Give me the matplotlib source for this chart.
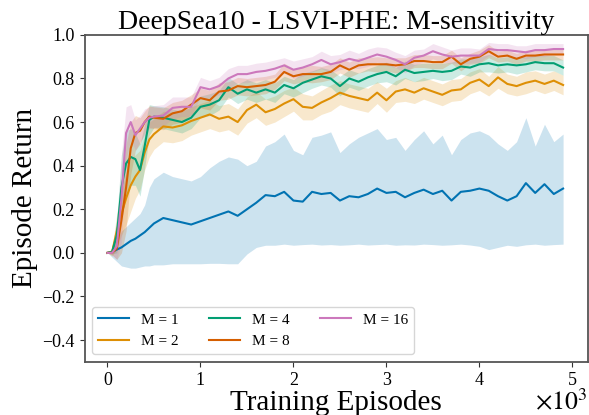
import numpy as np
import matplotlib
matplotlib.use("Agg")
import matplotlib.pyplot as plt

plt.rcParams['font.family'] = 'serif'
plt.rcParams['font.serif'] = ['Liberation Serif', 'DejaVu Serif']
plt.rcParams['mathtext.fontset'] = 'stix'

# training episodes
episodes = [0, 50, 100, 150, 200, 250, 300, 350, 400, 450, 500,
            600, 700, 800, 900, 1000, 1100, 1200, 1300, 1400, 1500,
            1600, 1700, 1800, 1900, 2000, 2100, 2200, 2300, 2400, 2500,
            2600, 2700, 2800, 2900, 3000, 3100, 3200, 3300, 3400, 3500,
            3600, 3700, 3800, 3900, 4000, 4100, 4200, 4300, 4400, 4500,
            4600, 4700, 4800, 4900]

# M = 1 (mean, upper and lower edge of band)
m1_mean = [0.0, 0.005, 0.015, 0.025, 0.04, 0.055, 0.065, 0.08, 0.095, 0.115, 0.135,
           0.16, 0.15, 0.14, 0.13, 0.145, 0.16, 0.175, 0.19, 0.17, 0.20,
           0.23, 0.265, 0.26, 0.28, 0.24, 0.235, 0.28, 0.27, 0.275, 0.24,
           0.26, 0.255, 0.27, 0.295, 0.275, 0.28, 0.255, 0.275, 0.29, 0.27,
           0.285, 0.24, 0.28, 0.285, 0.295, 0.285, 0.26, 0.24, 0.26, 0.32,
           0.275, 0.315, 0.27, 0.295]
m1_hi = [0.0, 0.02, 0.06, 0.10, 0.12, 0.14, 0.16, 0.18, 0.22, 0.30, 0.34,
         0.37, 0.35, 0.34, 0.33, 0.35, 0.39, 0.42, 0.44, 0.43, 0.40,
         0.42, 0.49, 0.51, 0.545, 0.47, 0.45, 0.53, 0.54, 0.555, 0.46,
         0.50, 0.53, 0.55, 0.57, 0.52, 0.53, 0.47, 0.52, 0.56, 0.50,
         0.54, 0.45, 0.52, 0.55, 0.56, 0.54, 0.50, 0.47, 0.51, 0.62,
         0.49, 0.59, 0.51, 0.545]
m1_lo = [0.0, -0.02, -0.04, -0.06, -0.065, -0.07, -0.07, -0.065, -0.06, -0.06, -0.055,
         -0.055, -0.05, -0.05, -0.05, -0.05, -0.048, -0.048, -0.05, -0.05, -0.005,
         0.025, 0.035, 0.035, 0.04, 0.035, 0.038, 0.04, 0.036, 0.038, 0.035,
         0.037, 0.04, 0.036, 0.038, 0.04, 0.035, 0.037, 0.036, 0.04, 0.038,
         0.035, 0.037, 0.04, 0.036, 0.03, 0.015, 0.025, 0.035, 0.03, 0.037,
         0.04, 0.035, 0.038, 0.04]

# M = 2
m2_mean = [0.0, 0.005, 0.10, 0.18, 0.25, 0.31, 0.35, 0.38, 0.46, 0.52, 0.545,
           0.58, 0.575, 0.585, 0.605, 0.62, 0.635, 0.615, 0.625, 0.60, 0.655,
           0.68, 0.645, 0.66, 0.685, 0.705, 0.67, 0.665, 0.69, 0.71, 0.735,
           0.72, 0.71, 0.70, 0.735, 0.70, 0.74, 0.75, 0.735, 0.755, 0.74,
           0.725, 0.745, 0.75, 0.78, 0.795, 0.765, 0.805, 0.775, 0.765, 0.78,
           0.79, 0.775, 0.79, 0.77]
m2_std = [0.0, 0.02, 0.08, 0.10, 0.12, 0.12, 0.10, 0.09, 0.08, 0.08, 0.07,
          0.07, 0.07, 0.07, 0.065, 0.065, 0.065, 0.06, 0.06, 0.06, 0.06,
          0.06, 0.06, 0.06, 0.06, 0.055, 0.06, 0.055, 0.055, 0.06, 0.055,
          0.055, 0.055, 0.055, 0.05, 0.055, 0.05, 0.055, 0.05, 0.05, 0.05,
          0.05, 0.05, 0.05, 0.05, 0.05, 0.045, 0.05, 0.045, 0.045, 0.05,
          0.045, 0.045, 0.045, 0.045]

# M = 4
m4_mean = [0.0, 0.005, 0.08, 0.30, 0.41, 0.44, 0.43, 0.38, 0.49, 0.61, 0.625,
           0.62, 0.61, 0.60, 0.62, 0.67, 0.68, 0.70, 0.76, 0.73, 0.75,
           0.735, 0.75, 0.735, 0.77, 0.755, 0.78, 0.795, 0.81, 0.80, 0.765,
           0.80, 0.785, 0.805, 0.82, 0.83, 0.81, 0.84, 0.825, 0.83, 0.835,
           0.83, 0.835, 0.855, 0.85, 0.865, 0.87, 0.86, 0.865, 0.86, 0.865,
           0.875, 0.87, 0.87, 0.85]
m4_std = [0.0, 0.01, 0.08, 0.15, 0.15, 0.13, 0.12, 0.12, 0.10, 0.07, 0.05,
          0.05, 0.05, 0.05, 0.05, 0.05, 0.05, 0.045, 0.045, 0.045, 0.045,
          0.045, 0.045, 0.045, 0.04, 0.04, 0.045, 0.04, 0.04, 0.04, 0.045,
          0.04, 0.04, 0.04, 0.04, 0.045, 0.04, 0.04, 0.04, 0.04, 0.035,
          0.04, 0.04, 0.035, 0.04, 0.035, 0.04, 0.035, 0.035, 0.04, 0.035,
          0.035, 0.035, 0.035, 0.035]

# M = 8
m8_mean = [0.0, 0.0, 0.02, 0.15, 0.30, 0.48, 0.55, 0.56, 0.60, 0.625, 0.62,
           0.615, 0.64, 0.65, 0.68, 0.71, 0.70, 0.74, 0.745, 0.765, 0.76,
           0.765, 0.77, 0.785, 0.83, 0.81, 0.82, 0.82, 0.82, 0.83, 0.86,
           0.84, 0.86, 0.865, 0.865, 0.865, 0.86, 0.865, 0.88, 0.88, 0.875,
           0.875, 0.90, 0.865, 0.89, 0.90, 0.925, 0.90, 0.905, 0.89, 0.905,
           0.905, 0.91, 0.91, 0.91]
m8_std = [0.0, 0.01, 0.05, 0.15, 0.20, 0.12, 0.08, 0.06, 0.05, 0.05, 0.05,
          0.05, 0.05, 0.05, 0.045, 0.045, 0.045, 0.04, 0.04, 0.04, 0.04,
          0.04, 0.04, 0.035, 0.04, 0.035, 0.035, 0.04, 0.035, 0.035, 0.035,
          0.035, 0.035, 0.03, 0.035, 0.03, 0.035, 0.03, 0.03, 0.03, 0.03,
          0.03, 0.03, 0.03, 0.025, 0.03, 0.03, 0.025, 0.025, 0.025, 0.025,
          0.025, 0.025, 0.025, 0.025]

# M = 16
m16_mean = [0.0, 0.0, 0.03, 0.25, 0.55, 0.60, 0.54, 0.57, 0.60, 0.62, 0.625,
            0.63, 0.665, 0.67, 0.67, 0.76, 0.75, 0.765, 0.80, 0.82, 0.82,
            0.83, 0.835, 0.845, 0.86, 0.84, 0.85, 0.865, 0.885, 0.865, 0.875,
            0.89, 0.88, 0.895, 0.91, 0.90, 0.885, 0.865, 0.895, 0.905, 0.925,
            0.91, 0.90, 0.905, 0.905, 0.905, 0.935, 0.93, 0.93, 0.925, 0.92,
            0.93, 0.93, 0.935, 0.935]
m16_std = [0.0, 0.01, 0.06, 0.20, 0.12, 0.08, 0.07, 0.06, 0.06, 0.05, 0.05,
           0.05, 0.05, 0.045, 0.045, 0.045, 0.04, 0.04, 0.045, 0.04, 0.04,
           0.04, 0.04, 0.04, 0.035, 0.04, 0.04, 0.035, 0.04, 0.04, 0.035,
           0.04, 0.035, 0.04, 0.035, 0.04, 0.035, 0.04, 0.035, 0.03, 0.035,
           0.035, 0.03, 0.035, 0.035, 0.03, 0.03, 0.03, 0.03, 0.025, 0.03,
           0.03, 0.03, 0.025, 0.025]

labels = ["M = 1", "M = 2", "M = 4", "M = 8", "M = 16"]
colors = ["#0173B2", "#DE8F05", "#029E73", "#D55E00", "#CC78BC"]

x = np.array(episodes)
fig = plt.figure(figsize=(5.89, 4.15), dpi=100)
ax = fig.add_axes([0.1435, 0.128, 0.8545, 0.788])

ax.fill_between(x, m1_lo, m1_hi, color=colors[0], alpha=0.2, linewidth=0)
ax.plot(x, m1_mean, color=colors[0], linewidth=1.5, label=labels[0])

rest = [(m2_mean, m2_std), (m4_mean, m4_std), (m8_mean, m8_std), (m16_mean, m16_std)]
for i, (mu, sd) in enumerate(rest, start=1):
    mu = np.array(mu)
    sd = np.array(sd)
    ax.fill_between(x, mu - sd, mu + sd, color=colors[i], alpha=0.2, linewidth=0)
    ax.plot(x, mu, color=colors[i], linewidth=1.5, label=labels[i])

ax.set_xlim(-247, 5166)
ax.set_ylim(-0.5, 1.0)
ax.set_xticks([0, 1000, 2000, 3000, 4000, 5000])
ax.set_xticklabels(["0", "1", "2", "3", "4", "5"])
ax.set_yticks([-0.4, -0.2, 0.0, 0.2, 0.4, 0.6, 0.8, 1.0])
ax.tick_params(labelsize=13, color='#333333')

for s in ax.spines.values():
    s.set_color('#555555')
    s.set_linewidth(1.3)

ax.set_title("DeepSea10 - LSVI-PHE: M-sensitivity", fontsize=20, pad=4)
ax.set_xlabel("Training Episodes", fontsize=21, labelpad=1)
ax.set_ylabel("Episode Return", fontsize=21, labelpad=3)
# x scale factor, placed like the axis offset text
fig.text(0.998, 0.011, r"$\times10^{3}$", fontsize=18.5, ha='right', va='baseline')

ax.legend(loc='lower left', ncol=3, fontsize=11, columnspacing=2.0)

fig.savefig("out.png", dpi=100)
